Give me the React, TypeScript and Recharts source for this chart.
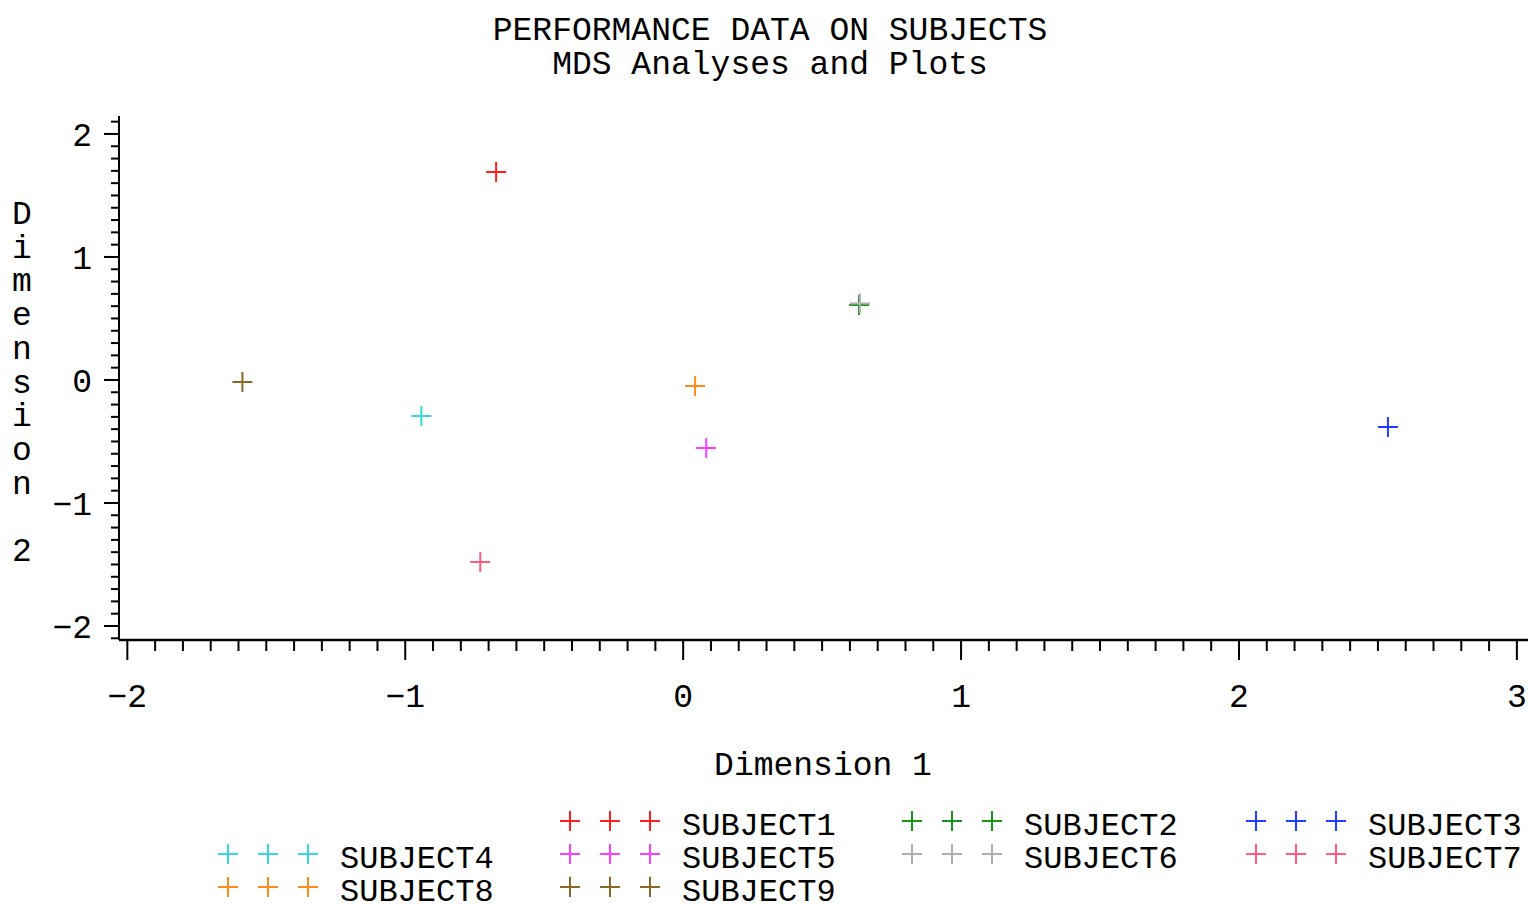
import React from 'react'
import { ScatterChart, Scatter, XAxis, YAxis } from 'recharts'

// ─── Data ─────────────────────────────────────────────────────────────────────

const SUBJECTS = [
  'SUBJECT1', 'SUBJECT2', 'SUBJECT3', 'SUBJECT4', 'SUBJECT5',
  'SUBJECT6', 'SUBJECT7', 'SUBJECT8', 'SUBJECT9',
]
const DIM1 = [-0.673, 0.633, 2.536, -0.942, 0.083, 0.636, -0.73, 0.043, -1.586]
const DIM2 = [1.691, 0.61, -0.382, -0.293, -0.553, 0.622, -1.48, -0.049, -0.016]
const COLORS = [
  '#ff1f1f', '#1a941a', '#1f3cff', '#3ad6de', '#ff3cff',
  '#b0b0b0', '#ff5a80', '#ff8a1a', '#8a6a22',
]

const X_MAJOR = [-2, -1, 0, 1, 2, 3]
const Y_MAJOR = [-2, -1, 0, 1, 2]

// legend columns (indices into SUBJECTS), first column starts one row down
const LEGEND_COLS = [[3, 7], [0, 4, 8], [1, 5], [2, 6]]

// ─── Helpers ──────────────────────────────────────────────────────────────────

const FONT = "'Liberation Mono', 'DejaVu Sans Mono', monospace"

const minorTicks = (from: number, to: number) => {
  const out: number[] = []
  for (let i = Math.round(from * 10); i <= Math.round(to * 10); i++) out.push(i / 10)
  return out
}
const X_TICKS = minorTicks(X_MAJOR[0], X_MAJOR[X_MAJOR.length - 1])
const Y_TICKS = minorTicks(Y_MAJOR[0] - 0.1, Y_MAJOR[Y_MAJOR.length - 1] + 0.1)

const isMajor = (v: number) => Math.abs(v - Math.round(v)) < 1e-6
const fmt = (v: number) => String(Math.round(v)).replace('-', '\u2212')

function XTick(props: any) {
  const { x, y, payload } = props
  const major = isMajor(payload.value)
  return (
    <g>
      <line x1={x} x2={x} y1={y} y2={y + (major ? 20 : 11)} stroke="#000" strokeWidth={2} />
      {major && (
        <text x={x} y={y + 67} textAnchor="middle" fontFamily={FONT} fontSize={33} fill="#000">
          {fmt(payload.value)}
        </text>
      )}
    </g>
  )
}

function YTick(props: any) {
  const { x, y, payload } = props
  const major = isMajor(payload.value)
  return (
    <g>
      <line x1={x} x2={x - (major ? 15 : 8)} y1={y} y2={y} stroke="#000" strokeWidth={2} />
      {major && (
        <text x={x - 27} y={y + 12} textAnchor="end" fontFamily={FONT} fontSize={33} fill="#000">
          {fmt(payload.value)}
        </text>
      )}
    </g>
  )
}

const plus = (color: string) => (props: any) => {
  const { cx, cy } = props
  return (
    <path
      d={`M${cx - 10},${cy}H${cx + 10}M${cx},${cy - 10}V${cy + 10}`}
      stroke={color}
      strokeWidth={2}
      fill="none"
    />
  )
}

// ─── Component ────────────────────────────────────────────────────────────────

export default function App() {
  const series = SUBJECTS.map((name, i) => ({
    name,
    color: COLORS[i],
    data: [{ x: DIM1[i], y: DIM2[i] }],
  }))

  const yLabel = 'Dimension 2'.split('')

  return (
    <div style={{ position: 'absolute', left: 0, top: 0, width: 1528, height: 904, background: '#fff' }}>
      <ScatterChart width={1528} height={904} margin={{ top: 116, right: 0, bottom: 0, left: 0 }}>
        <XAxis
          type="number"
          dataKey="x"
          domain={[-2.03, 3.04]}
          allowDataOverflow
          ticks={X_TICKS}
          interval={0}
          height={264}
          tickSize={0}
          tickMargin={0}
          tickLine={false}
          tick={<XTick />}
          axisLine={{ stroke: '#000', strokeWidth: 2.5 }}
          label={() => (
            <text x={823} y={775} textAnchor="middle" fontFamily={FONT} fontSize={33} fill="#000">
              Dimension 1
            </text>
          )}
        />
        <YAxis
          type="number"
          dataKey="y"
          domain={[-2.114, 2.146]}
          allowDataOverflow
          ticks={Y_TICKS}
          interval={0}
          width={119}
          tickSize={0}
          tickMargin={0}
          tickLine={false}
          tick={<YTick />}
          axisLine={{ stroke: '#000', strokeWidth: 2 }}
          label={() => (
            <text fontFamily={FONT} fontSize={33} fill="#000" textAnchor="middle">
              {yLabel.map((ch, i) => (
                <tspan key={i} x={22} y={224 + i * 33.7}>{ch}</tspan>
              ))}
            </text>
          )}
        />
        {series.map((s) => (
          <Scatter
            key={s.name}
            name={s.name}
            data={s.data}
            fill={s.color}
            shape={plus(s.color)}
            isAnimationActive={false}
          />
        ))}
      </ScatterChart>

      {/* Title + legend overlay */}
      <svg
        width={1528}
        height={904}
        style={{ position: 'absolute', left: 0, top: 0, pointerEvents: 'none' }}
      >
        <text x={770} y={40} textAnchor="middle" fontFamily={FONT} fontSize={33} fill="#000">
          PERFORMANCE DATA ON SUBJECTS
        </text>
        <text x={770} y={74} textAnchor="middle" fontFamily={FONT} fontSize={33} fill="#000">
          MDS Analyses and Plots
        </text>

        {LEGEND_COLS.map((col, ci) => {
          const x0 = [228, 570, 912, 1256][ci]
          const rowStart = ci === 0 ? 1 : 0
          return col.map((idx, ri) => {
            const cy = [821, 854, 887][rowStart + ri]
            const c = COLORS[idx]
            return (
              <g key={idx}>
                {[0, 1, 2].map((k) => (
                  <path
                    key={k}
                    d={`M${x0 + k * 40 - 10},${cy}H${x0 + k * 40 + 10}M${x0 + k * 40},${cy - 10}V${cy + 10}`}
                    stroke={c}
                    strokeWidth={2}
                  />
                ))}
                <text x={x0 + 112} y={cy + 14} fontFamily={FONT} fontSize={32} fill="#000">
                  {SUBJECTS[idx]}
                </text>
              </g>
            )
          })
        })}
      </svg>
    </div>
  )
}
